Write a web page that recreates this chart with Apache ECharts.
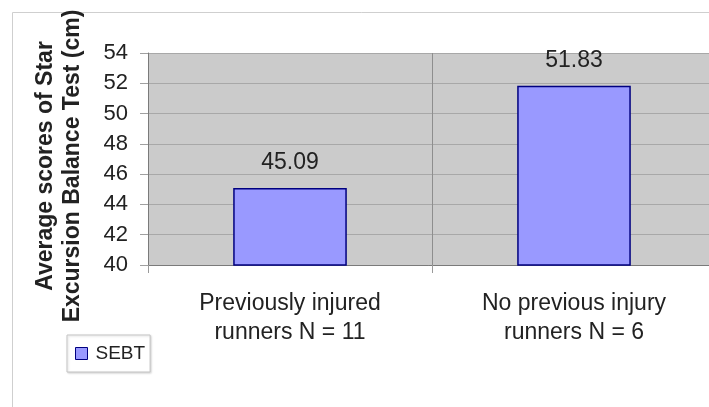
<!DOCTYPE html>
<html>
<head>
<meta charset="utf-8">
<script src="https://cdn.jsdelivr.net/npm/echarts@6/dist/echarts.min.js"></script>
<style>
html,body{margin:0;padding:0;background:#fff;}
#c{width:709px;height:407px;}
</style>
</head>
<body>
<div id="c"></div>
<script>
var categories = ['Previously injured\nrunners N = 11', 'No previous injury\nrunners N = 6'];
var sebtValues = [45.09, 51.83];
var seriesName = 'SEBT';
var yMin = 40, yMax = 54, yStep = 2;
var yAxisTitle = 'Average scores of Star\nExcursion Balance Test (cm)';

var chart = echarts.init(document.getElementById('c'));
chart.setOption({
  backgroundColor: '#ffffff',
  animation: false,
  graphic: [{
    type: 'rect',
    shape: { x: 12.5, y: 12.5, width: 720, height: 420 },
    style: { fill: 'none', stroke: '#cfcfcf', lineWidth: 1 },
    z: -10
  }],
  grid: {
    left: 148, top: 53, width: 568, height: 212,
    containLabel: false,
    outerBoundsMode: 'none',
    show: true, backgroundColor: '#cbcbcb', borderWidth: 0
  },
  legend: {
    data: [seriesName],
    left: 67, top: 335,
    orient: 'vertical',
    padding: [9, 5, 9, 8],
    itemWidth: 12, itemHeight: 12,
    icon: 'rect',
    borderColor: '#c4c4c4', borderWidth: 1,
    backgroundColor: '#ffffff',
    shadowColor: 'rgba(0,0,0,0.15)', shadowBlur: 2, shadowOffsetX: 1, shadowOffsetY: 1,
    itemStyle: { color: '#9999ff', borderColor: '#000080', borderWidth: 1 },
    textStyle: { fontFamily: 'Liberation Sans, Arial, sans-serif', fontSize: 19, color: '#222', padding: [0, 0, 0, 3] }
  },
  xAxis: {
    type: 'category',
    data: categories,
    boundaryGap: true,
    axisLine: { show: true, lineStyle: { color: '#7a7a7a', width: 1 } },
    axisTick: { show: true, length: 8, lineStyle: { color: '#9a9a9a' } },
    splitLine: { show: true, lineStyle: { color: '#8e8e8e', width: 1 } },
    axisLabel: {
      interval: 0, margin: 24,
      fontFamily: 'Liberation Sans, Arial, sans-serif', fontSize: 23, lineHeight: 29, color: '#222'
    }
  },
  yAxis: {
    type: 'value',
    min: yMin, max: yMax, interval: yStep,
    name: yAxisTitle,
    nameLocation: 'middle',
    nameRotate: 90,
    nameGap: 62,
    nameTextStyle: {
      fontFamily: 'Liberation Sans, Arial, sans-serif', fontSize: 23, fontWeight: 'bold',
      lineHeight: 27, color: '#222', align: 'center', padding: [0, 14, 0, 0]
    },
    axisLine: { show: true, lineStyle: { color: '#7a7a7a', width: 1 } },
    axisTick: { show: true, length: 8, lineStyle: { color: '#a0a0a0' } },
    splitLine: { show: true, lineStyle: { color: '#a8a8a8', width: 1 } },
    axisLabel: {
      margin: 20,
      fontFamily: 'Liberation Sans, Arial, sans-serif', fontSize: 22, color: '#222'
    }
  },
  series: [{
    name: seriesName,
    type: 'bar',
    data: sebtValues,
    barWidth: '40%',
    itemStyle: { color: '#9999ff', borderColor: '#000080', borderWidth: 1.5 },
    label: {
      show: true, position: 'top', distance: 14,
      formatter: function (p) { return p.value.toFixed(2); },
      fontFamily: 'Liberation Sans, Arial, sans-serif', fontSize: 23, color: '#222'
    }
  }]
});
</script>
</body>
</html>
